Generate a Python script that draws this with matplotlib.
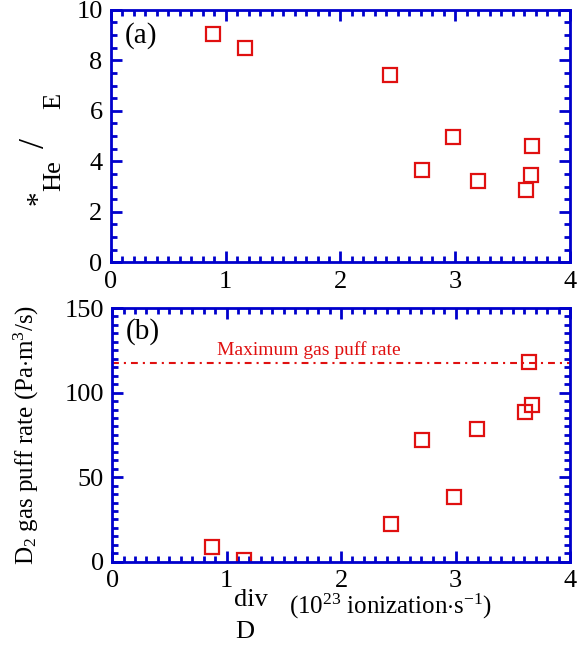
import numpy as np
from matplotlib import pyplot as plt
from matplotlib.ticker import MultipleLocator

plt.rcParams['font.family'] = ['Liberation Serif', 'DejaVu Serif']
plt.rcParams['mathtext.fontset'] = 'custom'
plt.rcParams['mathtext.rm'] = 'Liberation Serif'
plt.rcParams['mathtext.it'] = 'Liberation Serif:italic'

# panel (a): tau*_He / tau_E vs Gamma_D^div
gamma_a = [0.89, 1.17, 2.43, 2.71, 2.98, 3.20, 3.62, 3.67, 3.66]
tau_ratio = [9.05, 8.5, 7.4, 3.65, 4.96, 3.22, 2.86, 4.6, 3.45]

# panel (b): D2 gas puff rate vs Gamma_D^div
gamma_b = [0.87, 1.15, 2.44, 2.71, 2.99, 3.19, 3.61, 3.64, 3.67]
puff_rate = [9.0, 1.0, 22.5, 72.0, 38.5, 78.5, 88.5, 118.0, 92.5]
max_puff = 117.5

blue = '#0000cc'
red = '#e01010'
font_size = 19


def style_axes(ax, ymajor, yminor):
    for sp in ax.spines.values():
        sp.set_color(blue)
        sp.set_linewidth(2)
    ax.set_xlim(0, 4)
    ax.xaxis.set_major_locator(MultipleLocator(1))
    ax.xaxis.set_minor_locator(MultipleLocator(0.1))
    ax.yaxis.set_major_locator(MultipleLocator(ymajor))
    ax.yaxis.set_minor_locator(MultipleLocator(yminor))
    ax.tick_params(which='both', direction='in', top=True, right=True,
                   color=blue, labelsize=font_size, width=2)
    ax.tick_params(which='major', length=8, pad=6)
    ax.tick_params(which='minor', length=4)


fig = plt.figure(figsize=(5.87, 6.54), dpi=100)
ax1 = fig.add_axes([0.189, 0.599, 0.782, 0.386])
ax2 = fig.add_axes([0.191, 0.141, 0.780, 0.388])

ax1.plot(gamma_a, tau_ratio, 's', ms=10, mfc='none', mec=red, mew=1.6)
ax1.set_ylim(0, 10)
style_axes(ax1, 2, 0.5)
ax1.text(0.03, 0.95, '(a)', transform=ax1.transAxes, fontsize=font_size + 2, va='top')

# y label of (a), pieced together like the original
fig.text(0.066, 0.697, '*', fontsize=font_size + 2, rotation=90, ha='center', va='center')
fig.text(0.092, 0.732, 'He', fontsize=font_size, rotation=90, ha='center', va='center')
fig.text(0.060, 0.782, '/', fontsize=font_size + 7, rotation=90, ha='center', va='center')
fig.text(0.092, 0.846, 'E', fontsize=font_size, rotation=90, ha='center', va='center')

ax2.axhline(max_puff, color=red, lw=1.5, ls=(0, (3.3, 2.4, 1, 2.4)))
ax2.plot(gamma_b, puff_rate, 's', ms=10, mfc='none', mec=red, mew=1.6)
ax2.set_ylim(0, 150)
style_axes(ax2, 50, 5)
ax2.text(0.03, 0.96, '(b)', transform=ax2.transAxes, fontsize=font_size + 2, va='top')
ax2.text(0.43, 0.835, 'Maximum gas puff rate', transform=ax2.transAxes,
         fontsize=14, color=red, ha='center', va='center')
ax2.set_ylabel(r'D$_{2}$ gas puff rate (Pa$\cdot$m$^{3}$/s)', fontsize=font_size - 1)
ax2.yaxis.set_label_coords(-0.155, 0.5)

fig.text(0.428, 0.083, 'div', fontsize=font_size, ha='center', va='center')
fig.text(0.417, 0.033, 'D', fontsize=font_size, ha='center', va='center')
fig.text(0.493, 0.073, r'(10$^{23}$ ionization$\cdot$s$^{-1}$)', fontsize=font_size - 1,
         ha='left', va='center')

plt.savefig('out.png', dpi=100)
